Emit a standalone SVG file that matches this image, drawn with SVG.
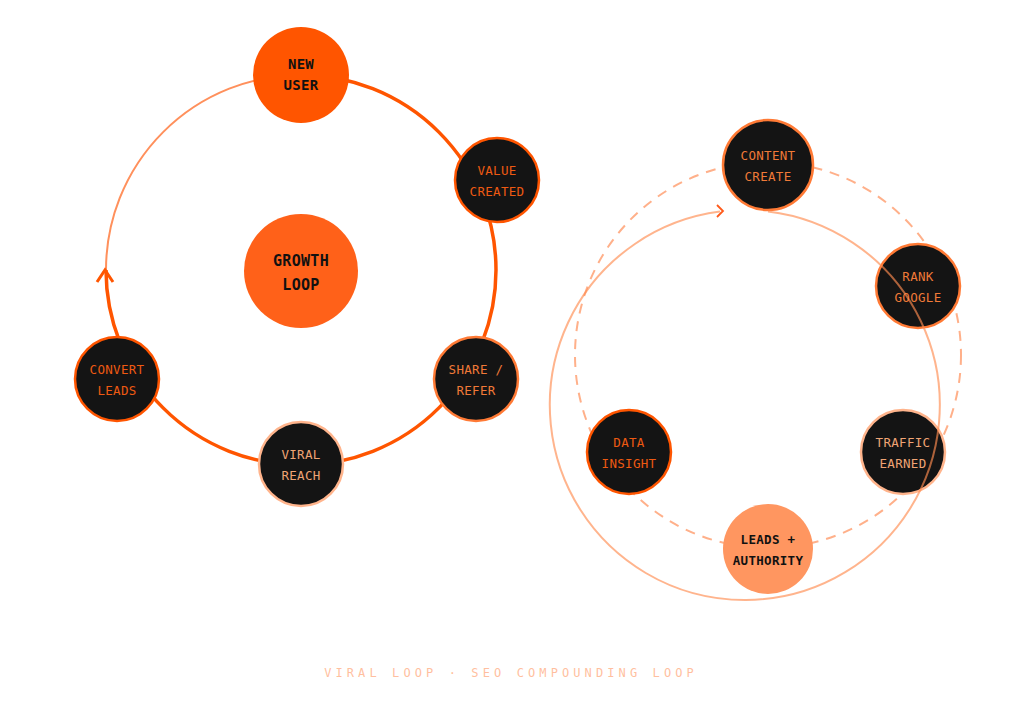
<svg xmlns="http://www.w3.org/2000/svg" width="1024" height="723" viewBox="0 0 1024 723">
<style>
.t{font-family:"DejaVu Sans Mono","Liberation Mono",monospace;font-size:12.5px;text-anchor:middle;letter-spacing:0.3px}
.b{font-weight:bold;fill:#111}
.dk{fill:#141414}
.c1{fill:#ee5a12}
.c2{fill:#f07a38}
.c3{fill:#f0a474}
.s1{stroke:#ff5500;stroke-width:2.5}
.s2{stroke:#ff7a35;stroke-width:2.5}
.s3{stroke:#ffb48c;stroke-width:2.5}
</style>
<rect width="1024" height="723" fill="#ffffff"/>
<g id="connectors">
  <path d="M106 270 A195 195 0 0 1 301 75" fill="none" stroke="#ff905c" stroke-width="2"/>
  <path d="M301 75 A195 195 0 1 1 106 270" fill="none" stroke="#ff5500" stroke-width="3.5"/>
  <polyline points="97,282 105,270 113,282" fill="none" stroke="#ff5500" stroke-width="3" stroke-linejoin="miter"/>
  <circle cx="768" cy="355" r="193" fill="none" stroke="#ffb08a" stroke-width="2" stroke-dasharray="10 8"/>
</g>
<g id="node-new-user"><circle cx="301" cy="75" r="48" fill="#ff5500"/><text class="t b" x="301" y="69" style="font-size:14px">NEW</text><text class="t b" x="301" y="90" style="font-size:14px">USER</text></g>
<g id="node-growth-loop"><circle cx="301" cy="271" r="57" fill="#ff6119"/><text class="t b" x="301" y="266" style="font-size:15px">GROWTH</text><text class="t b" x="301" y="290" style="font-size:15px">LOOP</text></g>
<g id="node-value-created"><circle class="dk s1" cx="497" cy="180" r="42"/><text class="t c1" x="497" y="175">VALUE</text><text class="t c1" x="497" y="196">CREATED</text></g>
<g id="node-share-refer"><circle class="dk s2" cx="476" cy="379" r="42"/><text class="t c2" x="476" y="374">SHARE /</text><text class="t c2" x="476" y="395">REFER</text></g>
<g id="node-viral-reach"><circle class="dk s3" cx="301" cy="464" r="42"/><text class="t c3" x="301" y="459">VIRAL</text><text class="t c3" x="301" y="480">REACH</text></g>
<g id="node-convert-leads"><circle class="dk s1" cx="117" cy="379" r="42"/><text class="t c1" x="117" y="374">CONVERT</text><text class="t c1" x="117" y="395">LEADS</text></g>
<g id="node-content-create"><circle class="dk s2" cx="768" cy="165" r="45"/><text class="t c2" x="768" y="160">CONTENT</text><text class="t c2" x="768" y="181">CREATE</text></g>
<g id="node-rank-google"><circle class="dk s2" cx="918" cy="286" r="42"/><text class="t c2" x="918" y="281">RANK</text><text class="t c2" x="918" y="302">GOOGLE</text></g>
<g id="node-traffic-earned"><circle class="dk s3" cx="903" cy="452" r="42"/><text class="t c3" x="903" y="447">TRAFFIC</text><text class="t c3" x="903" y="468">EARNED</text></g>
<g id="node-data-insight"><circle class="dk s1" cx="629" cy="452" r="42"/><text class="t c1" x="629" y="447">DATA</text><text class="t c1" x="629" y="468">INSIGHT</text></g>
<g id="node-leads-authority"><circle cx="768" cy="549" r="45" fill="#ff9660"/><text class="t b" x="768" y="544">LEADS +</text><text class="t b" x="768" y="565">AUTHORITY</text></g>
<g id="connectors-overlay">
  <path d="M768 211.4 A195 195 0 1 1 720 211.6" fill="none" stroke="#ff8c50" stroke-opacity="0.65" stroke-width="2"/>
  <polyline points="717,205 723,211 717,217" fill="none" stroke="#ff5a1a" stroke-width="1.8"/>
</g>
<text x="511" y="677" style="font-family:'DejaVu Sans Mono','Liberation Mono',monospace;font-size:12px;letter-spacing:4.1px;text-anchor:middle;fill:#ffbf9f">VIRAL LOOP · SEO COMPOUNDING LOOP</text>
</svg>
